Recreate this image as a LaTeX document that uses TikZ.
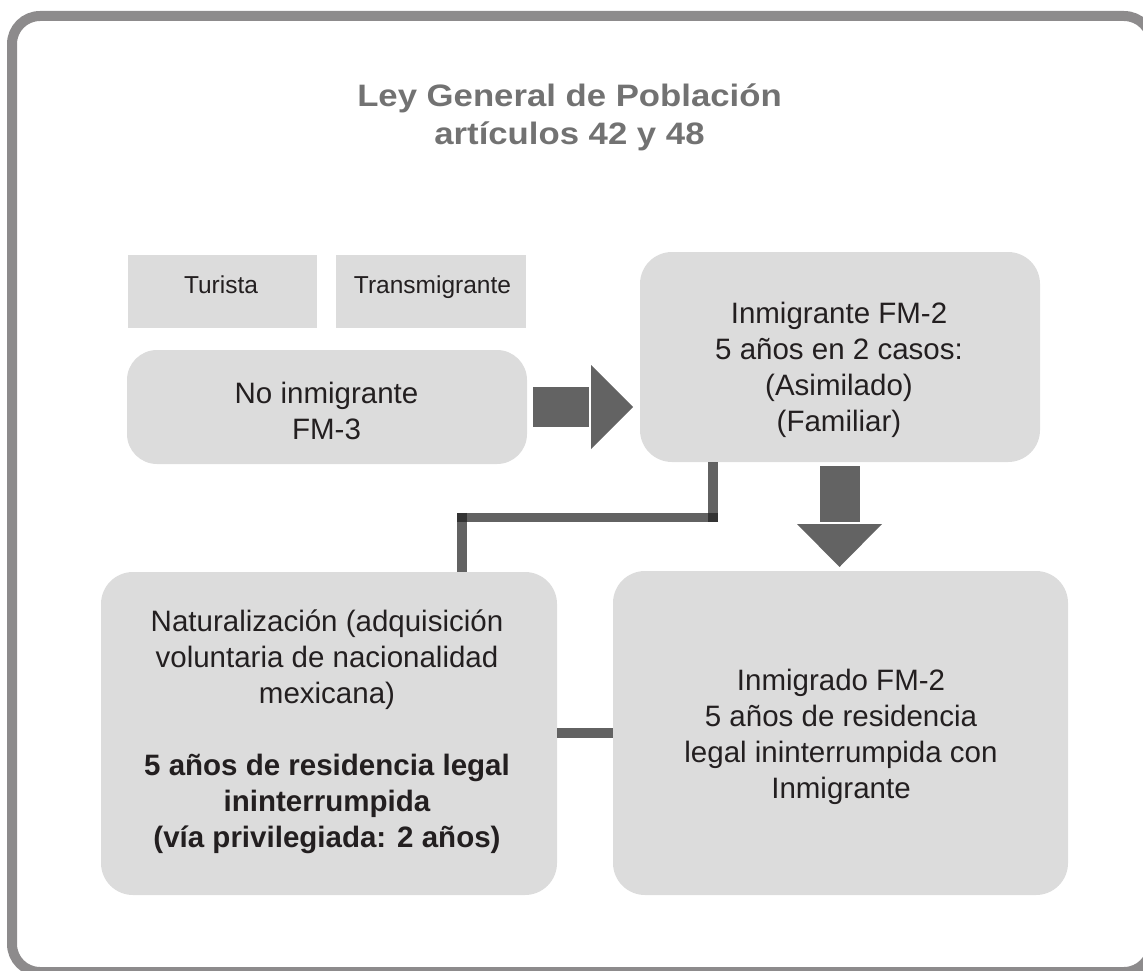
\documentclass[tikz,border=0pt]{standalone}
\usepackage{fontspec}
\setmainfont{Liberation Sans}
\newfontfamily\titlefont{Liberation Sans}[FakeStretch=1.12]
\definecolor{framec}{HTML}{8D8B8C}
\definecolor{boxc}{HTML}{DCDCDC}
\definecolor{arrc}{HTML}{636363}
\definecolor{titc}{HTML}{727272}
\definecolor{txtc}{HTML}{231F20}
\newcommand\tstrut{\rule{0pt}{23pt}}
\newcommand\bstrut{\rule[-7pt]{0pt}{7pt}}
\begin{document}
\begin{tikzpicture}[x=1pt,y=-1pt,
  box/.style={fill=boxc, inner sep=0pt, outer sep=0pt, rounded corners=32pt},
  sqbox/.style={fill=boxc, inner sep=0pt, outer sep=0pt},
  txt/.style={inner sep=0pt, outer sep=0pt, align=center, text=txtc, font=\fontsize{29.5}{36}\selectfont},
  small/.style={inner sep=0pt, outer sep=0pt, text=txtc, font=\fontsize{24.5}{30}\selectfont, anchor=base},
  bar/.style={line width=9.5pt, draw=black!88, draw opacity=0.7},
  blockarrow/.style={fill=arrc}]
\useasboundingbox (0,0) rectangle (1143,971);
% outer frame
\draw[line width=10pt, draw=framec, rounded corners=28pt] (12,16) rectangle (1152,972);
% title
\node[txt, text=titc, font=\titlefont\bfseries\fontsize{31}{38}\selectfont] (title) at (569.5,118)
  {\tstrut Ley General de Población\\artículos 42 y 48\bstrut};
% boxes
\node[sqbox, minimum width=189pt, minimum height=73pt] (tur) at (222.5,291.5) {};
\node[sqbox, minimum width=190pt, minimum height=73pt] (tra) at (431,291.5) {};
\node[box, rounded corners=30pt, minimum width=400pt, minimum height=114pt] (no) at (327,407) {};
\node[box, minimum width=400pt, minimum height=210pt] (inm) at (840,357) {};
\node[box, minimum width=456pt, minimum height=323pt] (nat) at (329,733.5) {};
\node[box, minimum width=455pt, minimum height=324pt] (imd) at (840.5,733) {};
% texts
\node[small] (turt) at (221,293) {Turista};
\node[small] (trat) at (432.5,293) {Transmigrante};
\node[txt] (not) at (326.5,413.5) {\tstrut No inmigrante\\FM-3\bstrut};
\node[txt] (inmt) at (839,369) {\tstrut Inmigrante FM-2\\5 años en 2 casos:\\(Asimilado)\\(Familiar)\bstrut};
\node[txt] (natt) at (327,731) {\tstrut Naturalización (adquisición\\voluntaria de nacionalidad\\mexicana)\\[36pt]\textbf{5 años de residencia legal}\\\textbf{ininterrumpida}\\\textbf{(vía privilegiada: 2 años)}\bstrut};
\node[txt] (imdt) at (841,736) {\tstrut Inmigrado FM-2\\5 años de residencia\\legal ininterrumpida con\\Inmigrante\bstrut};
% block arrows
\fill[blockarrow] (533,387) rectangle (589,427);
\fill[blockarrow] (591,365) -- (591,449) -- (633,407) -- cycle;
\fill[blockarrow] (820,466) rectangle (860,522);
\fill[blockarrow] (797,524) -- (882,524) -- (839.5,567) -- cycle;
% connectors
\coordinate (j1) at (713,517.5);
\coordinate (j2) at (462,517.5);
\coordinate (jb) at (585,733);
\draw[bar] (inm.south -| j1) -- ([yshift=-4.75pt]j1);
\draw[bar] ([xshift=5pt]j1) -- ([xshift=-5pt]j2);
\draw[bar] ([yshift=4.75pt]j2) -- (j2 |- nat.north);
\draw[bar] (nat.east |- jb) -- (imd.west |- jb);
\end{tikzpicture}
\end{document}
